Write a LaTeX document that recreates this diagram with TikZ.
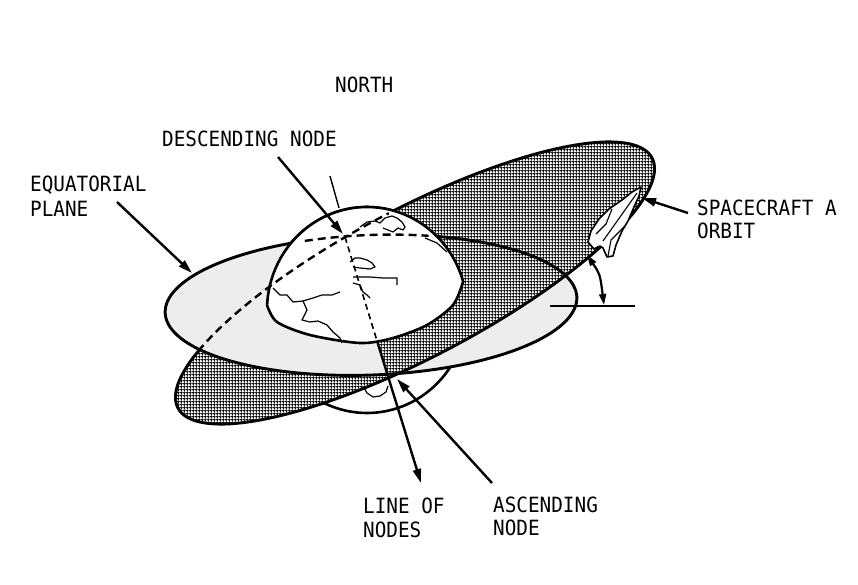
\documentclass[tikz,border=0pt]{standalone}
\usepackage{fontspec}
\newfontfamily\lblfont[FakeStretch=0.92]{DejaVu Sans Mono}
\usetikzlibrary{arrows.meta,patterns.meta}
\tikzdeclarepattern{
  name=halftone,
  type=uncolored,
  bounding box={(0pt,0pt) and (3.3pt,3.3pt)},
  tile size={(3.3pt,3.3pt)},
  code={\fill (1.65pt,1.65pt) circle (1.55pt);}
}
% orbit plane, equatorial plane, earth (image coordinates, y down)
\def\OX#1{(415+237.07*cos(#1)+34.51*sin(#1))}
\def\OY#1{(283-125*cos(#1)+65.46*sin(#1))}
\def\EX#1{(371+205.85*cos(#1)+2.69*sin(#1))}
\def\EY#1{(305-7.91*cos(#1)+69.95*sin(#1))}
\def\GX#1{(367+100*cos(#1))}
\def\GY#1{(310+103*sin(#1))}
\begin{document}
\begin{tikzpicture}[x=1pt,y=-1pt,
  lab/.style={inner sep=0pt,anchor=base west,font=\lblfont\fontsize{21}{24}\selectfont},
  rim/.style={line width=2.9pt},
  arrowline/.style={line width=2.4pt,-{Triangle[length=14pt,width=8pt]}},
  coast/.style={line width=1.2pt,line join=round},
  hidden/.style={line width=2.4pt,dash pattern=on 8pt off 5pt}]
\fill[white] (0,0) rectangle (858,585);
\useasboundingbox (0,0) rectangle (858,585);

% earth (whole globe, behind the planes)
\filldraw[fill=white,line width=2.6pt] plot[domain=0:360,samples=121] ({\GX{\x}},{\GY{\x}}) -- cycle;
\draw[coast] (363,386) -- (367,393) -- (373,397) -- (380,396) -- (386,392) -- (388,386);

% orbit plane fill
\fill[white] plot[domain=0:360,samples=151] ({\OX{\x}},{\OY{\x}}) -- cycle;
\fill[pattern=halftone] plot[domain=0:360,samples=151] ({\OX{\x}},{\OY{\x}}) -- cycle;

% equatorial plane fill
\fill[black!7] plot[domain=0:360,samples=151] ({\EX{\x}},{\EY{\x}}) -- cycle;

% orbit plane in front of the equatorial plane, right of the line of nodes
\begin{scope}
  \clip (193,-255) -- (1000,-255) -- (1000,975) -- (573,975) -- cycle;
  \fill[white] plot[domain=0:360,samples=151] ({\OX{\x}},{\OY{\x}}) -- cycle;
  \fill[pattern=halftone] plot[domain=0:360,samples=151] ({\OX{\x}},{\OY{\x}}) -- cycle;
\end{scope}

% outlines
\draw[rim] plot[domain=-100:213.5,samples=151] ({\OX{\x}},{\OY{\x}});
\draw[rim] plot[domain=0:360,samples=151] ({\EX{\x}},{\EY{\x}}) -- cycle;

% northern part of the globe, in front
\filldraw[fill=white,line width=2.6pt,line join=round]
  plot[domain=-177.2:-15.8,samples=80] ({\GX{\x}},{\GY{\x}})
  -- plot[smooth] coordinates {(463,282) (453,305) (427,325) (393,338) (360,343) (310,335) (277,322) (267,305)}
  -- cycle;

% continents
\draw[coast] (360,227) -- (367,222) -- (375,221) -- (380,223) -- (385,218) -- (392,216) -- (397,218) -- (402,222) -- (405,227) -- (403,230) -- (398,228) -- (393,232) -- (388,230) -- (383,228);
\draw[coast] (425,238) -- (437,243) -- (447,252);
\draw[coast] (350,262) -- (355,258) -- (360,258) -- (367,260) -- (372,263) -- (375,267) -- (370,269) -- (360,268) -- (353,267);
\draw[coast] (353,277) -- (370,277) -- (383,278) -- (397,278) -- (397,285);
\draw[coast] (353,283) -- (360,285) -- (363,292) -- (367,295) -- (370,298);
\draw[coast] (273,288) -- (280,295) -- (287,295) -- (293,302) -- (303,301) -- (313,298) -- (322,295) -- (332,295) -- (340,292);
\draw[coast] (303,301) -- (307,310) -- (302,320) -- (310,322) -- (318,321) -- (327,325) -- (333,332) -- (340,338) -- (342,343);

% hidden edges
\draw[hidden] plot[domain=252:287,samples=30] ({\EX{\x}},{\EY{\x}});
\draw[hidden] plot[domain=213.5:272,samples=50] ({\OX{\x}},{\OY{\x}});

% line of nodes
\coordinate (dnode) at (345,237);
\coordinate (lnexit) at (377.7,343);
\coordinate (lntip) at (421,483);
\draw[line width=1.6pt,dash pattern=on 6pt off 4pt] (dnode) -- (lnexit);
\draw[arrowline] (lnexit) -- (lntip);

% north axis
\coordinate (nA) at (330,176);
\coordinate (nB) at (339,208);
\draw[line width=1.4pt] (nA) -- (nB);

% inclination
\coordinate (hA) at (550,306);
\coordinate (hB) at (635,306);
\draw[line width=2.2pt] (hA) -- (hB);
\coordinate (iA) at (587,255);
\coordinate (iB) at (604,305);
\draw[line width=2.2pt,{Triangle[length=11pt,width=7pt]}-{Triangle[length=11pt,width=7pt]}] (iA) .. controls (600,274) .. (iB);

% spacecraft
\filldraw[fill=white,line width=1.6pt,line join=round]
  (641,187) -- (632,192) -- (622,200) -- (609,209) -- (599,219) -- (591,231) -- (588,242)
  -- (594,249) -- (600,246) -- (603,248) -- (607,257) -- (613,256) -- (616,245) -- (622,231)
  -- (628,221) -- (634,207) -- (639,196) -- cycle;
\draw[line width=1.1pt] (637,193) -- (603,241);
\draw[line width=1.1pt] (612,209) -- (606,224) -- (596,234);
\draw[line width=1.1pt] (625,226) -- (611,240) -- (608,256);

% labels
\node[lab] (north) at (335,93) {NORTH};
\node[lab] (desc) at (162,147) {DESCENDING NODE};
\node[lab] (eq1) at (30,192) {EQUATORIAL};
\node[lab] (eq2) at (30,216) {PLANE};
\node[lab] (sc1) at (697,215) {SPACECRAFT A};
\node[lab] (sc2) at (697,238) {ORBIT};
\node[lab] (ln1) at (363,513) {LINE OF};
\node[lab] (ln2) at (363,537) {NODES};
\node[lab] (as1) at (493,512) {ASCENDING};
\node[lab] (as2) at (493,535) {NODE};

% label arrows
\coordinate (eqT) at (117,202);
\coordinate (eqH) at (192,273);
\draw[arrowline] (eqT) -- (eqH);
\coordinate (dsT) at (278,157);
\coordinate (dsH) at (343,234);
\draw[arrowline] (dsT) -- (dsH);
\coordinate (scT) at (688,213);
\coordinate (scH) at (642,198);
\draw[arrowline] (scT) -- (scH);
\coordinate (asT) at (492,483);
\coordinate (asH) at (397,379);
\draw[arrowline] (asT) -- (asH);
\end{tikzpicture}
\end{document}
